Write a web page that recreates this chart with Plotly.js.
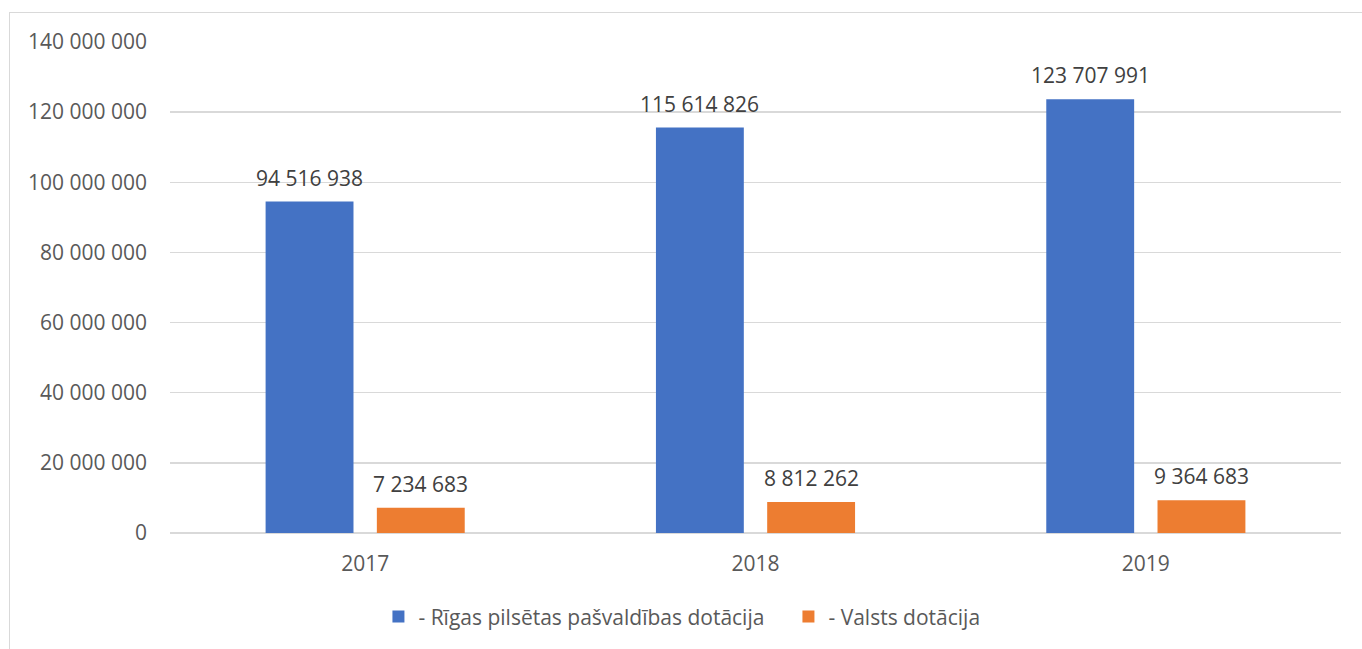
<!DOCTYPE html>
<html>
<head>
<meta charset="utf-8">
<script src="https://cdn.plot.ly/plotly-3.0.1.min.js"></script>
<style>
  html, body { margin: 0; padding: 0; background: #ffffff; overflow: hidden; }
  #chart { width: 1362px; height: 649px; }
  #frame { position: absolute; left: 9px; top: 12px; width: 1400px; height: 700px;
           border: 1.5px solid #d9d9d9; pointer-events: none; box-sizing: border-box; }
</style>
</head>
<body>
<div id="chart"></div>
<div id="frame"></div>
<script>
const years = ['2017', '2018', '2019'];
const rigaValues = [94516938, 115614826, 123707991];
const stateValues = [7234683, 8812262, 9364683];
const rigaName = '- Rīgas pilsētas pašvaldības dotācija';
const stateName = '- Valsts dotācija';
const yTicks = [0, 20000000, 40000000, 60000000, 80000000, 100000000, 120000000, 140000000];

const font = 'Open Sans, sans-serif';
const W = 1362, H = 649;
const margin = { l: 170, r: 21, t: 41.5, b: 116 };
const bargap = 0.43, bargroupgap = 0.21;

const traces = [
  { type: 'bar', name: rigaName, x: years, y: rigaValues, marker: { color: '#4472C4' }, hoverinfo: 'none' },
  { type: 'bar', name: stateName, x: years, y: stateValues, marker: { color: '#ED7D31' }, hoverinfo: 'none' }
];

// value labels above each bar, derived from the data arrays
const plotW = W - margin.l - margin.r;
const slot = (plotW / years.length) * (1 - bargap) / 2;
const fmt = v => String(v).replace(/\B(?=(\d{3})+(?!\d))/g, ' ');
const annotations = [];
[rigaValues, stateValues].forEach((vals, i) => {
  vals.forEach((v, j) => {
    annotations.push({
      x: j, y: v, xref: 'x', yref: 'y', text: fmt(v), showarrow: false,
      xshift: (i - 0.5) * slot, yshift: 24, yanchor: 'middle', xanchor: 'center',
      font: { family: font, size: 21, color: '#404040' }
    });
  });
});

const layout = {
  width: W, height: H, margin: margin,
  paper_bgcolor: 'rgba(0,0,0,0)', plot_bgcolor: 'rgba(0,0,0,0)',
  separators: ', ',
  font: { family: font, size: 21, color: '#595959' },
  barmode: 'group', bargap: bargap, bargroupgap: bargroupgap,
  showlegend: true,
  annotations: annotations,
  legend: {
    orientation: 'h', x: 0.178, xanchor: 'left', y: -0.171, yanchor: 'middle',
    font: { family: font, size: 21, color: '#595959' }, itemwidth: 30,
    entrywidth: 365, entrywidthmode: 'pixels'
  },
  xaxis: {
    type: 'category', categoryarray: years, categoryorder: 'array', range: [-0.5, 2.5],
    showgrid: false, showline: false, zeroline: false,
    ticks: '', ticklabelstandoff: 16, tickfont: { family: font, size: 21, color: '#595959' }
  },
  yaxis: {
    range: [0, 140000000], tickvals: yTicks, tickformat: ',d',
    showgrid: true, gridcolor: '#d9d9d9', gridwidth: 1.5,
    zeroline: true, zerolinecolor: '#d9d9d9', zerolinewidth: 1.5,
    showline: false, ticks: '', ticklabelstandoff: 22,
    tickfont: { family: font, size: 21, color: '#595959' }
  }
};

Plotly.newPlot('chart', traces, layout, { displayModeBar: false, staticPlot: true });
</script>
</body>
</html>
